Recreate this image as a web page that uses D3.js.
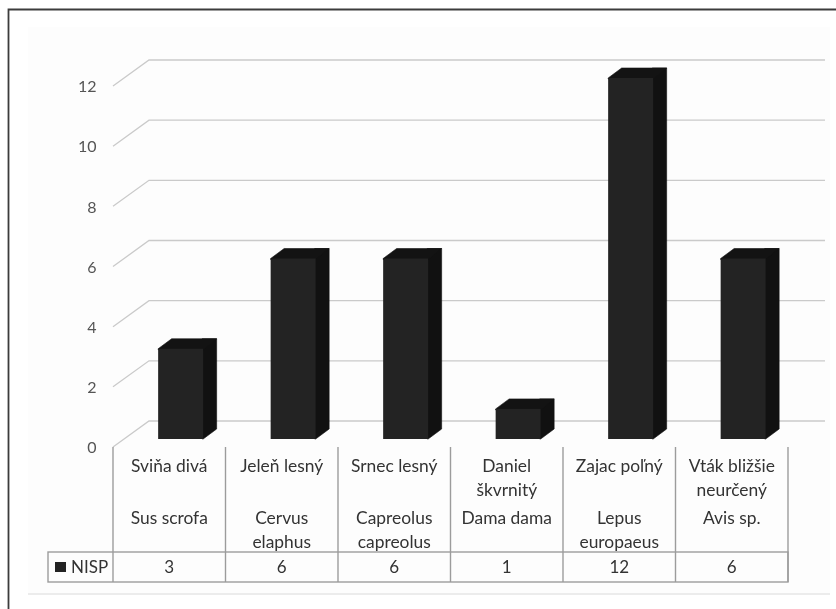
<!DOCTYPE html>
<html><head><meta charset="utf-8">
<script src="https://cdn.jsdelivr.net/npm/d3@7"></script>
<style>
html,body{margin:0;padding:0;background:#fff}
svg{display:block;filter:blur(0.5px)}
text{font-family:Lato,"Open Sans",sans-serif}
</style></head><body>
<svg id="c" width="836" height="609"></svg>
<script>
const commonNames=[["Sviňa divá"],["Jeleň lesný"],["Srnec lesný"],["Daniel","škvrnitý"],["Zajac poľný"],["Vták bližšie","neurčený"]];
const latinNames=[["Sus scrofa"],["Cervus","elaphus"],["Capreolus","capreolus"],["Dama dama"],["Lepus","europaeus"],["Avis sp."]];
const seriesName="NISP";
const values=[3,6,6,1,12,6];
const yTicks=[0,2,4,6,8,10,12];
const keys=d3.range(values.length);

const svg=d3.select("#c");
const y=d3.scaleLinear().domain([0,12]).range([447,86]);
const x=d3.scaleBand().domain(keys).range([113,788]).paddingInner(0.6).paddingOuter(0.3);
const edges=d3.scaleLinear().domain([0,6]).range([113,788]);
const depth={dx:36,dy:-26}, barDepth={dx:13.5,dy:-10}, barOff={dx:11.4,dy:-8};

// frame and plot background
svg.append("rect").attr("x",28).attr("y",27).attr("width",802).attr("height",566).attr("fill","#fdfdfd");
svg.append("path").attr("d","M8.5,609V9.5H836").attr("fill","none").attr("stroke","#3c3c3c").attr("stroke-width",1.8);
svg.append("line").attr("x1",28).attr("x2",830).attr("y1",594).attr("y2",594).attr("stroke","#e6e6e6").attr("stroke-width",1.5);

// grid: side wall + back wall
svg.append("g").selectAll("path").data(yTicks).join("path")
  .attr("d",d=>d3.line()([[113,y(d)],[113+depth.dx,y(d)+depth.dy],[825,y(d)+depth.dy]]))
  .attr("fill","none").attr("stroke","#cacaca").attr("stroke-width",1.3);

// y axis
const ya=svg.append("g").attr("transform","translate(96.5,0)")
  .call(d3.axisLeft(y).tickValues(yTicks).tickSize(0).tickPadding(0));
ya.select(".domain").remove();
ya.selectAll("text").attr("font-size",16).attr("fill","#555").attr("dy","0.36em");

// 3D bars
const bars=svg.append("g").selectAll("g").data(keys).join("g");
const x0=i=>x(i)+barOff.dx, x1=i=>x0(i)+x.bandwidth();
const yB=y(0)+barOff.dy, yT=i=>y(values[i])+barOff.dy;
bars.append("path").attr("fill","#111").attr("stroke","#111").attr("stroke-width",0.6)
  .attr("d",i=>d3.line()([[x1(i)-1,yB],[x1(i),yB],[x1(i)+barDepth.dx,yB+barDepth.dy],[x1(i)+barDepth.dx,yT(i)+barDepth.dy],[x1(i)-1,yT(i)+barDepth.dy]])+"Z");
bars.append("path").attr("fill","#131313").attr("stroke","#131313").attr("stroke-width",0.6)
  .attr("d",i=>d3.line()([[x0(i),yT(i)+1],[x0(i),yT(i)],[x0(i)+barDepth.dx,yT(i)+barDepth.dy],[x1(i)+barDepth.dx,yT(i)+barDepth.dy],[x1(i),yT(i)+1]])+"Z");
bars.append("rect").attr("fill","#232323")
  .attr("x",x0).attr("width",x.bandwidth()).attr("y",yT).attr("height",i=>yB-yT(i));

// data table
const T={top:552,bottom:582,left:48,head:447};
const tbl=svg.append("g").attr("stroke","#9c9c9c").attr("stroke-width",1.4).attr("fill","none");
tbl.selectAll("line.v").data(d3.range(7)).join("line").attr("class","v")
  .attr("x1",edges).attr("x2",edges).attr("y1",T.head).attr("y2",T.bottom);
tbl.append("rect").attr("x",T.left).attr("y",T.top).attr("width",edges(6)-T.left).attr("height",T.bottom-T.top);

const mid=i=>(edges(i)+edges(i+1))/2;
const lab=svg.append("g").attr("text-anchor","middle").attr("fill","#333");
keys.forEach(i=>{
  commonNames[i].forEach((t,j)=>lab.append("text").attr("font-size",17.4).attr("x",mid(i)).attr("y",472+j*24).text(t));
  latinNames[i].forEach((t,j)=>lab.append("text").attr("font-size",17.4).attr("x",mid(i)).attr("y",524+j*24).text(t));
  lab.append("text").attr("font-size",17).attr("x",mid(i)).attr("y",573).text(values[i]);
});
svg.append("rect").attr("x",55).attr("y",562).attr("width",11).attr("height",10).attr("fill","#232323");
svg.append("text").attr("x",71).attr("y",573).attr("font-size",17).attr("fill","#333").text(seriesName);
</script>
</body></html>
